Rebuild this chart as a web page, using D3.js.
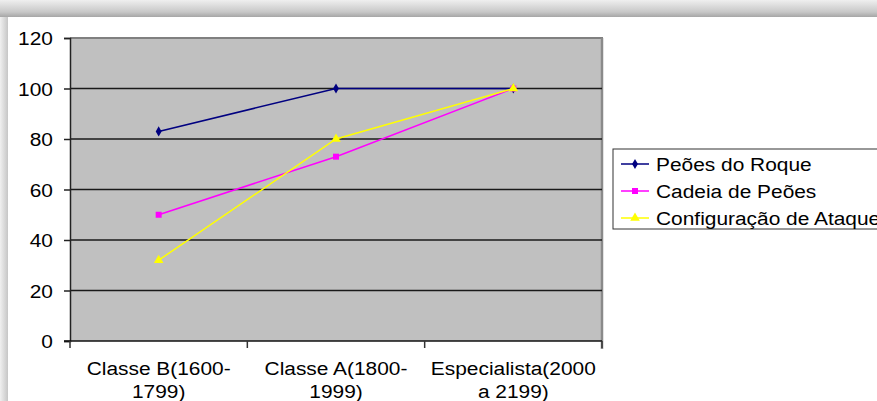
<!DOCTYPE html>
<html>
<head>
<meta charset="utf-8">
<script src="https://cdn.jsdelivr.net/npm/d3@7"></script>
<style>
  html, body { margin: 0; padding: 0; background: #fff; }
  svg { display: block; }
  text { font-family: "Liberation Sans", Arial, sans-serif; fill: #000; }
</style>
</head>
<body>
<svg id="chart" width="877" height="401"></svg>
<script>
// Chart data
const categories = [
  ["Classe B(1600-", "1799)"],
  ["Classe A(1800-", "1999)"],
  ["Especialista(2000", "a 2199)"]
];
const seriesNames = ["Peões do Roque", "Cadeia de Peões", "Configuração de Ataque"];
const roqueValues = [83, 100, 100];
const cadeiaValues = [50, 73, 100];
const ataqueValues = [32, 80, 100];
const yTicks = [0, 20, 40, 60, 80, 100, 120];

const series = [
  { name: seriesNames[0], values: roqueValues, color: "#000080", marker: "diamond" },
  { name: seriesNames[1], values: cadeiaValues, color: "#ff00ff", marker: "square" },
  { name: seriesNames[2], values: ataqueValues, color: "#ffff00", marker: "triangle" }
];

const svg = d3.select("#chart");
const W = 877, H = 401;
const FONT = 19, STRETCH = 1.1;

// Frame with soft shadow along the top and left edges
const defs = svg.append("defs");
const gTop = defs.append("linearGradient").attr("id", "shTop").attr("x1", 0).attr("y1", 0).attr("x2", 0).attr("y2", 1);
gTop.append("stop").attr("offset", "0%").attr("stop-color", "#efefef");
gTop.append("stop").attr("offset", "70%").attr("stop-color", "#c8c8c8");
gTop.append("stop").attr("offset", "100%").attr("stop-color", "#a6a6a6");
const gLeft = defs.append("linearGradient").attr("id", "shLeft").attr("x1", 0).attr("y1", 0).attr("x2", 1).attr("y2", 0);
gLeft.append("stop").attr("offset", "0%").attr("stop-color", "#f0f0f0");
gLeft.append("stop").attr("offset", "100%").attr("stop-color", "#c6c6c6");

svg.append("rect").attr("x", 0).attr("y", 0).attr("width", W).attr("height", H).attr("fill", "#fff");
svg.append("rect").attr("x", 0).attr("y", 0).attr("width", W).attr("height", 17).attr("fill", "url(#shTop)");
svg.append("rect").attr("x", 0).attr("y", 17).attr("width", 8).attr("height", H - 17).attr("fill", "url(#shLeft)");

// Plot area
const plot = { left: 70, right: 602, top: 38, bottom: 341 };

const x = d3.scaleBand()
  .domain(d3.range(categories.length))
  .range([plot.left, plot.right])
  .paddingInner(0).paddingOuter(0);

const y = d3.scaleLinear().domain([0, 120]).range([plot.bottom, plot.top]);

svg.append("rect")
  .attr("x", plot.left).attr("y", plot.top)
  .attr("width", plot.right - plot.left).attr("height", plot.bottom - plot.top)
  .attr("fill", "#c0c0c0");

// Plot border (top and right, grey)
svg.append("line").attr("x1", plot.left).attr("x2", plot.right + 1)
  .attr("y1", plot.top).attr("y2", plot.top)
  .attr("stroke", "#808080").attr("stroke-width", 2);
svg.append("line").attr("x1", plot.right).attr("x2", plot.right)
  .attr("y1", plot.top).attr("y2", plot.bottom + 8)
  .attr("stroke", "#8a8a8a").attr("stroke-width", 2.5);

// Horizontal gridlines
svg.append("g").selectAll("line")
  .data(yTicks.filter(d => d > 0 && d < 120))
  .join("line")
  .attr("x1", plot.left).attr("x2", plot.right)
  .attr("y1", d => y(d)).attr("y2", d => y(d))
  .attr("stroke", "#1a1a1a").attr("stroke-width", 1.5);

// Y axis
const yAxis = d3.axisLeft(y).tickValues(yTicks).tickSize(6).tickFormat("");
const gy = svg.append("g").attr("transform", `translate(${plot.left},0)`).call(yAxis);
gy.select(".domain").attr("stroke", "#222").attr("stroke-width", 1.5);
gy.selectAll(".tick line").attr("stroke", "#222").attr("stroke-width", 1.5);
svg.append("g").selectAll("text").data(yTicks).join("text")
  .attr("text-anchor", "end")
  .attr("font-size", FONT)
  .attr("transform", d => `translate(53,${y(d) + 7}) scale(${STRETCH},1)`)
  .text(d => d);

// X axis line and category boundary ticks
svg.append("line").attr("x1", plot.left - 6).attr("x2", plot.right)
  .attr("y1", plot.bottom).attr("y2", plot.bottom)
  .attr("stroke", "#111").attr("stroke-width", 1.5);
const boundaries = d3.range(categories.length + 1).map(i => i < categories.length ? x(i) : x(i - 1) + x.bandwidth());
svg.append("g").selectAll("line").data(boundaries).join("line")
  .attr("x1", d => d).attr("x2", d => d)
  .attr("y1", plot.bottom).attr("y2", plot.bottom + 7)
  .attr("stroke", "#333").attr("stroke-width", 1.5);

// Category labels (two lines each)
const xl = svg.append("g").selectAll("text").data(categories).join("text")
  .attr("text-anchor", "middle")
  .attr("font-size", FONT)
  .attr("transform", (d, i) => `translate(${x(i) + x.bandwidth() / 2},375) scale(${STRETCH},1)`);
xl.selectAll("tspan").data(d => d).join("tspan")
  .attr("x", 0)
  .attr("dy", (d, i) => i === 0 ? 0 : 23)
  .text(d => d);

// Marker shapes
const markerPath = {
  diamond: d3.symbol().type(d3.symbolDiamond).size(30)(),
  square: d3.symbol().type(d3.symbolSquare).size(36)(),
  triangle: d3.symbol().type(d3.symbolTriangle).size(40)()
};

const line = d3.line()
  .x((d, i) => x(i) + x.bandwidth() / 2)
  .y(d => y(d));

series.forEach(s => {
  const g = svg.append("g");
  g.append("path").attr("d", line(s.values))
    .attr("fill", "none").attr("stroke", s.color).attr("stroke-width", 1.5);
  g.selectAll("path.m").data(s.values).join("path").attr("class", "m")
    .attr("d", markerPath[s.marker])
    .attr("transform", (d, i) => `translate(${x(i) + x.bandwidth() / 2},${y(d)})`)
    .attr("fill", s.color);
});

// Legend
const leg = { x: 613, y: 149, w: 290, h: 80 };
svg.append("rect").attr("x", leg.x).attr("y", leg.y).attr("width", leg.w).attr("height", leg.h)
  .attr("fill", "#fff").attr("stroke", "#333").attr("stroke-width", 1);
const li = svg.append("g").selectAll("g").data(series).join("g")
  .attr("transform", (d, i) => `translate(${leg.x},${leg.y + 15 + i * 27})`);
li.append("line").attr("x1", 8).attr("x2", 36).attr("y1", 0).attr("y2", 0)
  .attr("stroke", d => d.color).attr("stroke-width", 1.5);
li.append("path").attr("d", d => markerPath[d.marker]).attr("transform", "translate(22,0)")
  .attr("fill", d => d.color);
li.append("text").attr("transform", `translate(43,7) scale(${STRETCH},1)`)
  .attr("font-size", FONT).text(d => d.name);
</script>
</body>
</html>
